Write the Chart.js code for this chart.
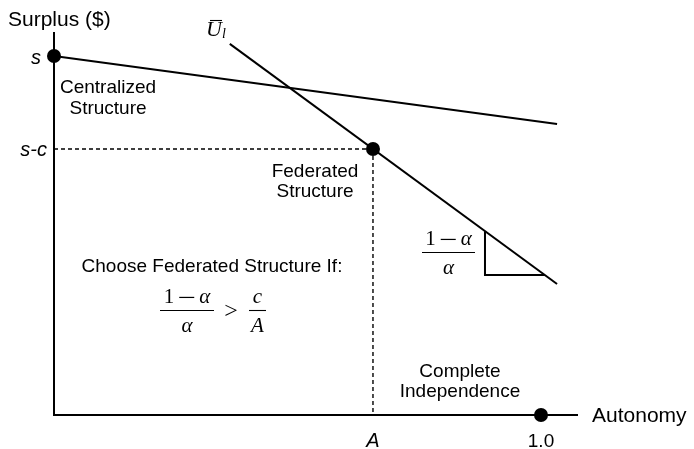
<!DOCTYPE html>
<html>
<head>
<meta charset="utf-8">
<script src="https://cdn.jsdelivr.net/npm/chart.js@4.4.0/dist/chart.umd.min.js"></script>
<style>
  html, body { margin: 0; padding: 0; background: #fff; }
  #wrap { width: 694px; height: 449px; }
</style>
</head>
<body>
<div id="wrap"><canvas id="chart" width="694" height="449"></canvas></div>
<script>
// Values (x: autonomy, 0..1; y: surplus, s = 1)
const axisMax = { x: 1.076, y: 1.067 };
const surplusS = 1.0;
const surplusSC = 0.741;
const autonomyA = 0.655;
const autonomyFull = 1.0;

const centralizedLine = [{ x: 0, y: 1.0 }, { x: 1.033, y: 0.811 }];
const utilityLine = [{ x: 0.361, y: 1.034 }, { x: 1.033, y: 0.365 }];
const slopeTriangle = [{ x: 0.885, y: 0.512 }, { x: 0.885, y: 0.39 }, { x: 1.008, y: 0.39 }];
const axesLines = [{ x: 0, y: axisMax.y }, { x: 0, y: 0 }, { x: axisMax.x, y: 0 }];
const dashedH = [{ x: 0, y: surplusSC }, { x: autonomyA, y: surplusSC }];
const dashedV = [{ x: autonomyA, y: surplusSC }, { x: autonomyA, y: 0 }];
const keyPoints = [{ x: 0, y: surplusS }, { x: autonomyA, y: surplusSC }, { x: autonomyFull, y: 0 }];

const yTickLabels = ['s', 's-c'];
const xTickLabels = ['A', '1.0'];

const SANS = '"Liberation Sans", Arial, Helvetica, sans-serif';
const SERIF = '"Liberation Serif", "DejaVu Serif", serif';

function lineSet(data, opts) {
  return Object.assign({
    data: data,
    showLine: true,
    borderColor: '#000',
    borderWidth: 2,
    pointRadius: 0,
    fill: false,
    clip: false,
    tension: 0
  }, opts || {});
}

// plain text helper
function txt(ctx, s, x, y, font, align) {
  ctx.font = font;
  ctx.textAlign = align || 'left';
  ctx.textBaseline = 'alphabetic';
  ctx.fillText(s, x, y);
}

// runs: {t: text, i: italic, gap: px, minus: px}; centred at cx
function runFont(r, size) {
  return (r.i ? 'italic ' : '') + size + 'px ' + SERIF;
}
function mathRun(ctx, runs, cx, baseline, size) {
  let widths = runs.map(function(r) {
    if (r.gap) return r.gap;
    if (r.minus) return r.minus;
    ctx.font = runFont(r, size);
    return ctx.measureText(r.t).width;
  });
  let total = widths.reduce(function(a, b) { return a + b; }, 0);
  let x = cx - total / 2;
  ctx.textAlign = 'left';
  ctx.textBaseline = 'alphabetic';
  runs.forEach(function(r, i) {
    if (r.minus) {
      // thin math minus, drawn as a rule at the maths axis
      ctx.fillRect(x, baseline - size * 0.27, r.minus, 1.2);
    } else if (!r.gap) {
      ctx.font = runFont(r, size);
      ctx.fillText(r.t, x, baseline);
    }
    x += widths[i];
  });
}

function fraction(ctx, num, den, x1, x2, barY) {
  const cx = (x1 + x2) / 2;
  mathRun(ctx, num, cx, barY - 8, 21);
  mathRun(ctx, den, cx, barY + 21, 21);
  ctx.beginPath();
  ctx.lineWidth = 1.1;
  ctx.moveTo(x1, barY);
  ctx.lineTo(x2, barY);
  ctx.stroke();
}

const oneMinusAlpha = [{ t: '1' }, { gap: 5 }, { minus: 15 }, { gap: 5 }, { t: '\u03B1', i: true }];
const alpha = [{ t: '\u03B1', i: true }];

const annotations = {
  id: 'annotations',
  afterDatasetsDraw(chart) {
    const ctx = chart.ctx;
    const xs = chart.scales.x, ys = chart.scales.y;
    const ca = chart.chartArea;
    ctx.save();
    ctx.fillStyle = '#000';
    ctx.strokeStyle = '#000';

    // axis titles
    txt(ctx, 'Surplus ($)', 8, 26, '21px ' + SANS);
    txt(ctx, 'Autonomy', ca.right + 14, ys.getPixelForValue(0) + 7, '21px ' + SANS);

    // tick labels
    txt(ctx, yTickLabels[0], ca.left - 13, ys.getPixelForValue(surplusS) + 8, 'italic 20px ' + SANS, 'right');
    txt(ctx, yTickLabels[1], ca.left - 7, ys.getPixelForValue(surplusSC) + 7, 'italic 20px ' + SANS, 'right');
    txt(ctx, xTickLabels[0], xs.getPixelForValue(autonomyA), 447, 'italic 20px ' + SANS, 'center');
    txt(ctx, xTickLabels[1], xs.getPixelForValue(autonomyFull), 447, '19px ' + SANS, 'center');

    // region labels
    const f = '19px ' + SANS;
    txt(ctx, 'Centralized', 108, 93, f, 'center');
    txt(ctx, 'Structure', 108, 114, f, 'center');
    txt(ctx, 'Federated', 315, 177, f, 'center');
    txt(ctx, 'Structure', 315, 197, f, 'center');
    txt(ctx, 'Complete', 460, 377, f, 'center');
    txt(ctx, 'Independence', 460, 397, f, 'center');
    txt(ctx, 'Choose Federated Structure If:', 212, 272, f, 'center');

    // condition: (1-a)/a > c/A
    fraction(ctx, oneMinusAlpha, alpha, 160, 214, 310.5);
    mathRun(ctx, [{ t: '>' }], 231, 318, 24);
    fraction(ctx, [{ t: 'c', i: true }], [{ t: 'A', i: true }], 249, 266, 310.5);

    // slope label
    fraction(ctx, oneMinusAlpha, alpha, 422, 475, 252.5);

    // U-bar sub l
    ctx.font = 'italic 22px ' + SERIF;
    ctx.textAlign = 'left';
    ctx.fillText('U', 206, 36);
    ctx.font = 'italic 14px ' + SERIF;
    ctx.fillText('l', 222, 38);
    ctx.beginPath();
    ctx.lineWidth = 1.1;
    ctx.moveTo(210, 20.5);
    ctx.lineTo(222, 20.5);
    ctx.stroke();

    ctx.restore();
  }
};

new Chart(document.getElementById('chart'), {
  type: 'scatter',
  data: {
    datasets: [
      lineSet(axesLines, { borderWidth: 2 }),
      lineSet(dashedH, { borderWidth: 1.4, borderDash: [4, 3] }),
      lineSet(dashedV, { borderWidth: 1.4, borderDash: [4, 3] }),
      lineSet(centralizedLine),
      lineSet(utilityLine),
      lineSet(slopeTriangle),
      {
        data: keyPoints,
        showLine: false,
        pointRadius: 7,
        pointBackgroundColor: '#000',
        pointBorderColor: '#000',
        pointBorderWidth: 0,
        clip: false
      }
    ]
  },
  options: {
    responsive: false,
    animation: false,
    layout: { padding: { left: 54, right: 116, top: 32, bottom: 34 } },
    plugins: { legend: { display: false }, tooltip: { enabled: false } },
    scales: {
      x: { type: 'linear', min: 0, max: axisMax.x, display: false },
      y: { type: 'linear', min: 0, max: axisMax.y, display: false }
    }
  },
  plugins: [annotations]
});
</script>
</body>
</html>
